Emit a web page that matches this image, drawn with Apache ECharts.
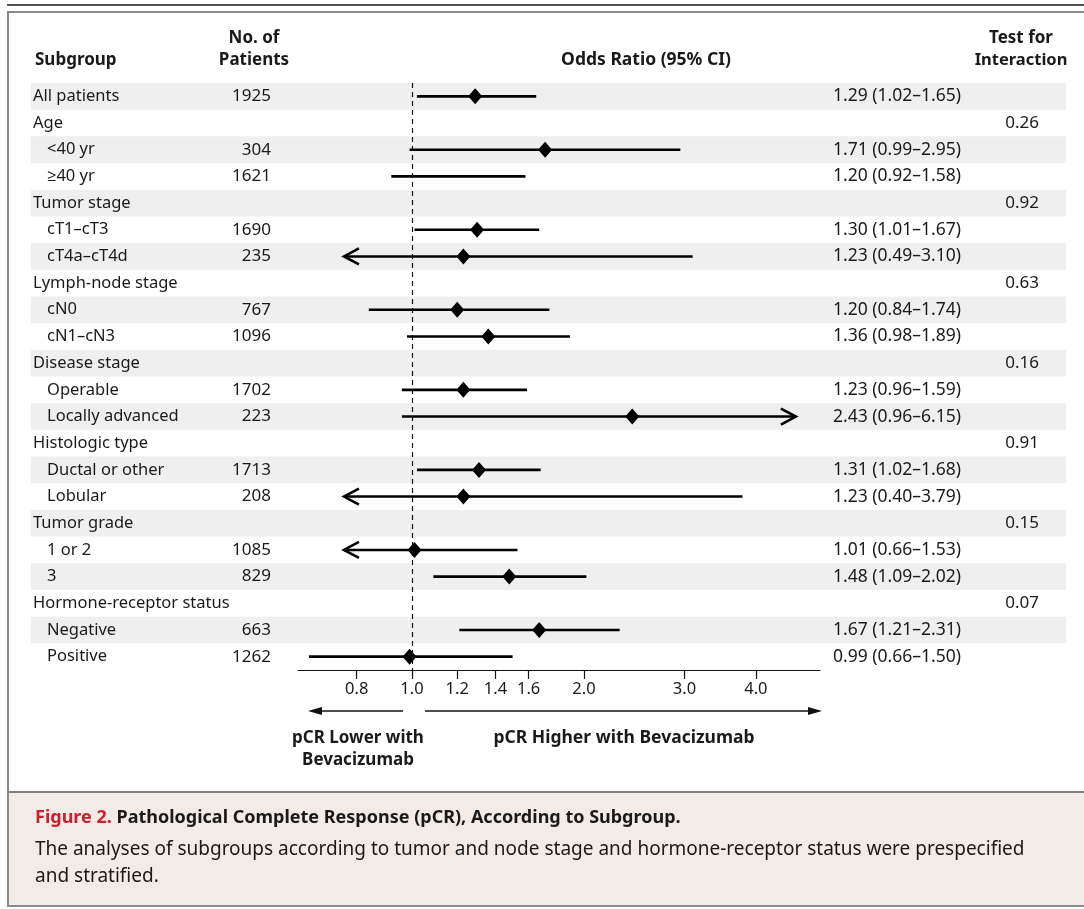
<!DOCTYPE html>
<html><head><meta charset="utf-8">
<script src="https://cdn.jsdelivr.net/npm/echarts@6/dist/echarts.min.js"></script>
<style>html,body{margin:0;padding:0;background:#fff}#c{width:1084px;height:909px}</style>
</head><body><div id="c"></div>
<script>
// ---------- data ----------
const subgroups = ['All patients','Age','<40 yr','≥40 yr','Tumor stage','cT1–cT3','cT4a–cT4d','Lymph-node stage','cN0','cN1–cN3','Disease stage','Operable','Locally advanced','Histologic type','Ductal or other','Lobular','Tumor grade','1 or 2','3','Hormone-receptor status','Negative','Positive'];
const levels = [0,0,1,1,0,1,1,0,1,1,0,1,1,0,1,1,0,1,1,0,1,1];
const patients = [1925,null,304,1621,null,1690,235,null,767,1096,null,1702,223,null,1713,208,null,1085,829,null,663,1262];
const oddsRatio = [1.29,null,1.71,1.20,null,1.30,1.23,null,1.20,1.36,null,1.23,2.43,null,1.31,1.23,null,1.01,1.48,null,1.67,0.99];
const ciLow = [1.02,null,0.99,0.92,null,1.01,0.49,null,0.84,0.98,null,0.96,0.96,null,1.02,0.40,null,0.66,1.09,null,1.21,0.66];
const ciHigh = [1.65,null,2.95,1.58,null,1.67,3.10,null,1.74,1.89,null,1.59,6.15,null,1.68,3.79,null,1.53,2.02,null,2.31,1.50];
const interactionP = [null,'0.26',null,null,'0.92',null,null,'0.63',null,null,'0.16',null,null,'0.91',null,null,'0.15',null,null,'0.07',null,null];
const truncated = ['','','','','','','L','','','','','','R','','','L','','L','','','',''];
const noMarker = [3]; // row drawn without a diamond in the reference
const tickValues = [0.8,1.0,1.2,1.4,1.6,2.0,3.0,4.0];
const axisMin = 0.6315, axisMax = 5.18;
const clipLow = 0.76, clipHigh = 4.7;

// ---------- rendering ----------
const FONT = '"Noto Sans", "Open Sans", sans-serif';
const INK = '#1a1a1a';
const chart = echarts.init(document.getElementById('c'), null, {renderer: 'canvas'});
const rowIdx = subgroups.map((_, i) => [1, i]);

function txt(x, y, text, opt) {
  return {type: 'text', style: Object.assign({x, y, text, fill: INK, fontSize: 16.5, fontFamily: FONT, verticalAlign: 'middle', align: 'left'}, opt || {})};
}
function head(x, y, text, align, size) {
  return {type: 'text', z: 10, style: {x, y, text, fill: INK, fontSize: size || 17, fontWeight: 'bold', fontFamily: FONT, verticalAlign: 'middle', align: align || 'left'}};
}

const option = {
  animation: false,
  backgroundColor: '#fff',
  grid: {left: 298, right: 264, top: 83, bottom: 239, containLabel: false},
  xAxis: {
    type: 'log', logBase: 10, min: axisMin, max: axisMax,
    axisLine: {show: true, onZero: false, lineStyle: {color: '#111', width: 1.2}},
    axisTick: {show: true, customValues: tickValues, length: 9, lineStyle: {color: '#111', width: 1.2}},
    axisLabel: {show: true, customValues: tickValues, formatter: v => Number(v).toFixed(1), margin: 11, fontSize: 16.5, fontFamily: FONT, color: INK},
    splitLine: {show: false}, minorTick: {show: false}
  },
  yAxis: {type: 'category', data: subgroups, inverse: true, show: false},
  series: [
    { // stripes
      type: 'custom', z: 0, silent: true, clip: false, data: rowIdx,
      renderItem: (params, api) => {
        const i = params.dataIndex;
        if (i % 2 !== 0) return null;
        const y = api.coord([1, i])[1];
        const h = api.size([0, 1])[1];
        return {type: 'rect', shape: {x: 31, y: y - h / 2, width: 1035, height: h}, style: {fill: '#efefef'}};
      }
    },
    { // text columns
      type: 'custom', z: 2, silent: true, clip: false, data: rowIdx,
      renderItem: (params, api) => {
        const i = params.dataIndex;
        const y = api.coord([1, i])[1];
        const ch = [txt(levels[i] ? 47 : 33, y, subgroups[i])];
        if (patients[i] != null) ch.push(txt(271, y, String(patients[i]), {align: 'right', fontSize: 17}));
        if (oddsRatio[i] != null) ch.push(txt(833, y, oddsRatio[i].toFixed(2) + ' (' + ciLow[i].toFixed(2) + '–' + ciHigh[i].toFixed(2) + ')', {fontSize: 17.5}));
        if (interactionP[i] != null) ch.push(txt(1039, y, interactionP[i], {align: 'right', fontSize: 17}));
        return {type: 'group', children: ch};
      }
    },
    { // CI lines and diamonds
      type: 'custom', z: 3, silent: true, clip: false, data: rowIdx,
      renderItem: (params, api) => {
        const i = params.dataIndex;
        if (oddsRatio[i] == null) return null;
        const lo = truncated[i] === 'L' ? clipLow : ciLow[i];
        const hi = truncated[i] === 'R' ? clipHigh : ciHigh[i];
        const p1 = api.coord([lo, i]);
        const p2 = api.coord([hi, i]);
        const pm = api.coord([oddsRatio[i], i]);
        const y = pm[1];
        const lw = 2.6;
        const ch = [{type: 'line', shape: {x1: p1[0], y1: y, x2: p2[0], y2: y}, style: {stroke: '#000', lineWidth: lw}}];
        if (truncated[i] === 'L') ch.push({type: 'polyline', shape: {points: [[p1[0] + 15, y - 8], [p1[0], y], [p1[0] + 15, y + 8]]}, style: {stroke: '#000', lineWidth: lw, fill: null}});
        if (truncated[i] === 'R') ch.push({type: 'polyline', shape: {points: [[p2[0] - 15, y - 8], [p2[0], y], [p2[0] - 15, y + 8]]}, style: {stroke: '#000', lineWidth: lw, fill: null}});
        if (noMarker.indexOf(i) < 0) ch.push({type: 'polygon', shape: {points: [[pm[0], y - 8], [pm[0] + 7, y], [pm[0], y + 8], [pm[0] - 7, y]]}, style: {fill: '#000'}});
        return {type: 'group', children: ch};
      },
      markLine: {
        silent: true, symbol: 'none', label: {show: false},
        lineStyle: {color: '#111', width: 1.2, type: [5, 4]},
        data: [{xAxis: 1}]
      }
    }
  ],
  graphic: [
    // frame
    {type: 'rect', shape: {x: 7, y: 4, width: 1080, height: 2}, style: {fill: '#555'}, z: 10},
    {type: 'rect', shape: {x: 8, y: 12, width: 1090, height: 894}, style: {fill: null, stroke: '#8a8a8a', lineWidth: 2}, z: 10},
    {type: 'rect', shape: {x: 9, y: 793, width: 1080, height: 112}, style: {fill: '#f2ebe6'}, z: 9},
    {type: 'line', shape: {x1: 8, y1: 792, x2: 1084, y2: 792}, style: {stroke: '#808080', lineWidth: 2}, z: 10},
    // headers
    head(35, 60, 'Subgroup'),
    head(254, 38, 'No. of', 'center'),
    head(254, 60, 'Patients', 'center'),
    head(646, 60, 'Odds Ratio (95% CI)', 'center', 17.5),
    head(1021, 38, 'Test for', 'center'),
    head(1021, 60, 'Interaction', 'center', 16.5),
    // direction arrows
    {type: 'line', z: 10, shape: {x1: 403, y1: 711, x2: 318, y2: 711}, style: {stroke: '#111', lineWidth: 1.3}},
    {type: 'polygon', z: 10, shape: {points: [[308, 711], [322, 707], [322, 715]]}, style: {fill: '#111'}},
    {type: 'line', z: 10, shape: {x1: 425, y1: 711, x2: 812, y2: 711}, style: {stroke: '#111', lineWidth: 1.3}},
    {type: 'polygon', z: 10, shape: {points: [[822, 711], [808, 707], [808, 715]]}, style: {fill: '#111'}},
    head(358, 738, 'pCR Lower with', 'center'),
    head(358, 760, 'Bevacizumab', 'center'),
    head(624, 738, 'pCR Higher with Bevacizumab', 'center', 17.5),
    // caption
    {type: 'text', z: 11, style: {x: 35, y: 818, text: '{r|Figure 2.} {b|Pathological Complete Response (pCR), According to Subgroup.}', verticalAlign: 'middle', fontFamily: FONT, fontSize: 18,
      rich: {r: {fill: '#c8202e', fontWeight: 'bold', fontSize: 18, fontFamily: FONT}, b: {fill: INK, fontWeight: 'bold', fontSize: 18, fontFamily: FONT}}}},
    {type: 'text', z: 11, style: {x: 35, y: 850, text: 'The analyses of subgroups according to tumor and node stage and hormone-receptor status were prespecified', fill: INK, fontSize: 19, fontFamily: FONT, verticalAlign: 'middle'}},
    {type: 'text', z: 11, style: {x: 35, y: 877, text: 'and stratified.', fill: INK, fontSize: 19, fontFamily: FONT, verticalAlign: 'middle'}}
  ]
};
chart.setOption(option);
</script>
</body></html>
